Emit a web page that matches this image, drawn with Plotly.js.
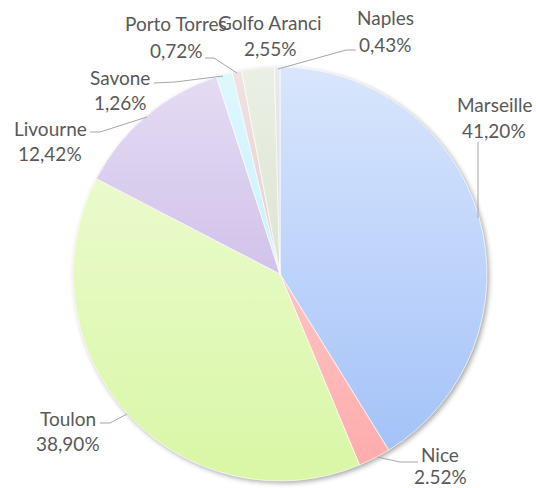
<!DOCTYPE html>
<html>
<head>
<meta charset="utf-8">
<script src="https://cdn.plot.ly/plotly-3.0.1.min.js"></script>
<style>html,body{margin:0;padding:0;background:#fff;}#chart{width:536px;height:488px;}</style>
</head>
<body>
<div id="chart"></div>
<script>
// Data
const ports = ['Marseille', 'Nice', 'Toulon', 'Livourne', 'Savone', 'Porto Torres', 'Golfo Aranci', 'Naples'];
const shares = [41.20, 2.52, 38.90, 12.42, 1.26, 0.72, 2.55, 0.43];
const shareLabels = ['41,20%', '2.52%', '38,90%', '12,42%', '1,26%', '0,72%', '2,55%', '0,43%'];
const sliceColors = ['#a0c0f8', '#ffaaaa', '#d9f7a5', '#bea9e2', '#b0ecfc', '#dcb8b8', '#cdd9bd', '#c8c8d4'];

// Plot area geometry (pixels)
const L = 73, T = 67, S = 414, W = 536, H = 488;
const px = x => (x - L) / S;
const py = y => (T + S - y) / S;

// label positions (pixel centres of the two text lines)
const labelPos = {
  'Marseille':    [494, 105, 130],
  'Nice':         [440, 454, 476],
  'Toulon':       [68, 418, 443],
  'Livourne':     [50, 128, 153],
  'Savone':       [120, 77, 102],
  'Porto Torres': [176, 24, 50],
  'Golfo Aranci': [270, 23, 48],
  'Naples':       [385, 18, 45]
};
const leaders = {
  'Marseille':    [[478, 142], [478, 218]],
  'Nice':         [[418, 462], [400, 462], [377, 457]],
  'Toulon':       [[100, 423], [110, 423], [127, 414]],
  'Livourne':     [[90, 132], [100, 132], [147, 117]],
  'Savone':       [[154, 83], [175, 82], [223, 76]],
  'Porto Torres': [[205, 58], [214, 58], [237, 73]],
  'Naples':       [[356, 50], [346, 50], [278, 69]]
};

const font = {family: 'Lato, "Open Sans", sans-serif', size: 19, color: '#595959'};
const annotations = [];
ports.forEach((p, i) => {
  const [cx, y1, y2] = labelPos[p];
  annotations.push({xref: 'paper', yref: 'paper', x: px(cx), y: py(y1), text: p, showarrow: false, font: font, xanchor: 'center', yanchor: 'middle'});
  annotations.push({xref: 'paper', yref: 'paper', x: px(cx), y: py(y2), text: shareLabels[i], showarrow: false, font: font, xanchor: 'center', yanchor: 'middle'});
});
const shapes = Object.keys(leaders).map(k => {
  const pts = leaders[k];
  const d = pts.map((p, j) => (j ? 'L' : 'M') + px(p[0]) + ',' + py(p[1])).join(' ');
  return {type: 'path', xref: 'paper', yref: 'paper', path: d, line: {color: '#a6a6a6', width: 1}};
});

const gradSvg = '<svg xmlns="http://www.w3.org/2000/svg" width="414" height="414" viewBox="0 0 414 414">' +
  '<defs><linearGradient id="g" x1="0" y1="0" x2="0" y2="1">' +
  '<stop offset="0" stop-color="#ffffff" stop-opacity="0.6"/>' +
  '<stop offset="1" stop-color="#ffffff" stop-opacity="0"/></linearGradient></defs>' +
  '<circle cx="207" cy="207" r="207" fill="url(#g)"/></svg>';
const shadowSvg = '<svg xmlns="http://www.w3.org/2000/svg" width="434" height="434" viewBox="0 0 434 434">' +
  '<defs><filter id="b" x="-10%" y="-10%" width="120%" height="120%"><feGaussianBlur stdDeviation="2.5"/></filter></defs>' +
  '<circle cx="219" cy="219" r="207" fill="#000000" fill-opacity="0.35" filter="url(#b)"/></svg>';

const trace = {
  type: 'pie',
  labels: ports,
  values: shares,
  sort: false,
  direction: 'clockwise',
  rotation: 0,
  textinfo: 'none',
  hoverinfo: 'label+percent',
  marker: {colors: sliceColors, line: {color: '#ffffff', width: 0.7}},
  showlegend: false
};

const layout = {
  width: W, height: H,
  margin: {l: L, r: W - L - S, t: T, b: H - T - S, pad: 0},
  paper_bgcolor: '#ffffff',
  plot_bgcolor: '#ffffff',
  showlegend: false,
  annotations: annotations,
  shapes: shapes,
  images: [
    {source: 'data:image/svg+xml;charset=utf-8,' + encodeURIComponent(shadowSvg), xref: 'paper', yref: 'paper',
     x: px(L - 10), y: py(T - 10), sizex: 434 / S, sizey: 434 / S, xanchor: 'left', yanchor: 'top', sizing: 'stretch', layer: 'below'},
    {source: 'data:image/svg+xml;charset=utf-8,' + encodeURIComponent(gradSvg), xref: 'paper', yref: 'paper',
     x: 0, y: 1, sizex: 1, sizey: 1, xanchor: 'left', yanchor: 'top', sizing: 'stretch', layer: 'above'}
  ]
};

Plotly.newPlot('chart', [trace], layout, {displayModeBar: false, staticPlot: true});
</script>
</body>
</html>
